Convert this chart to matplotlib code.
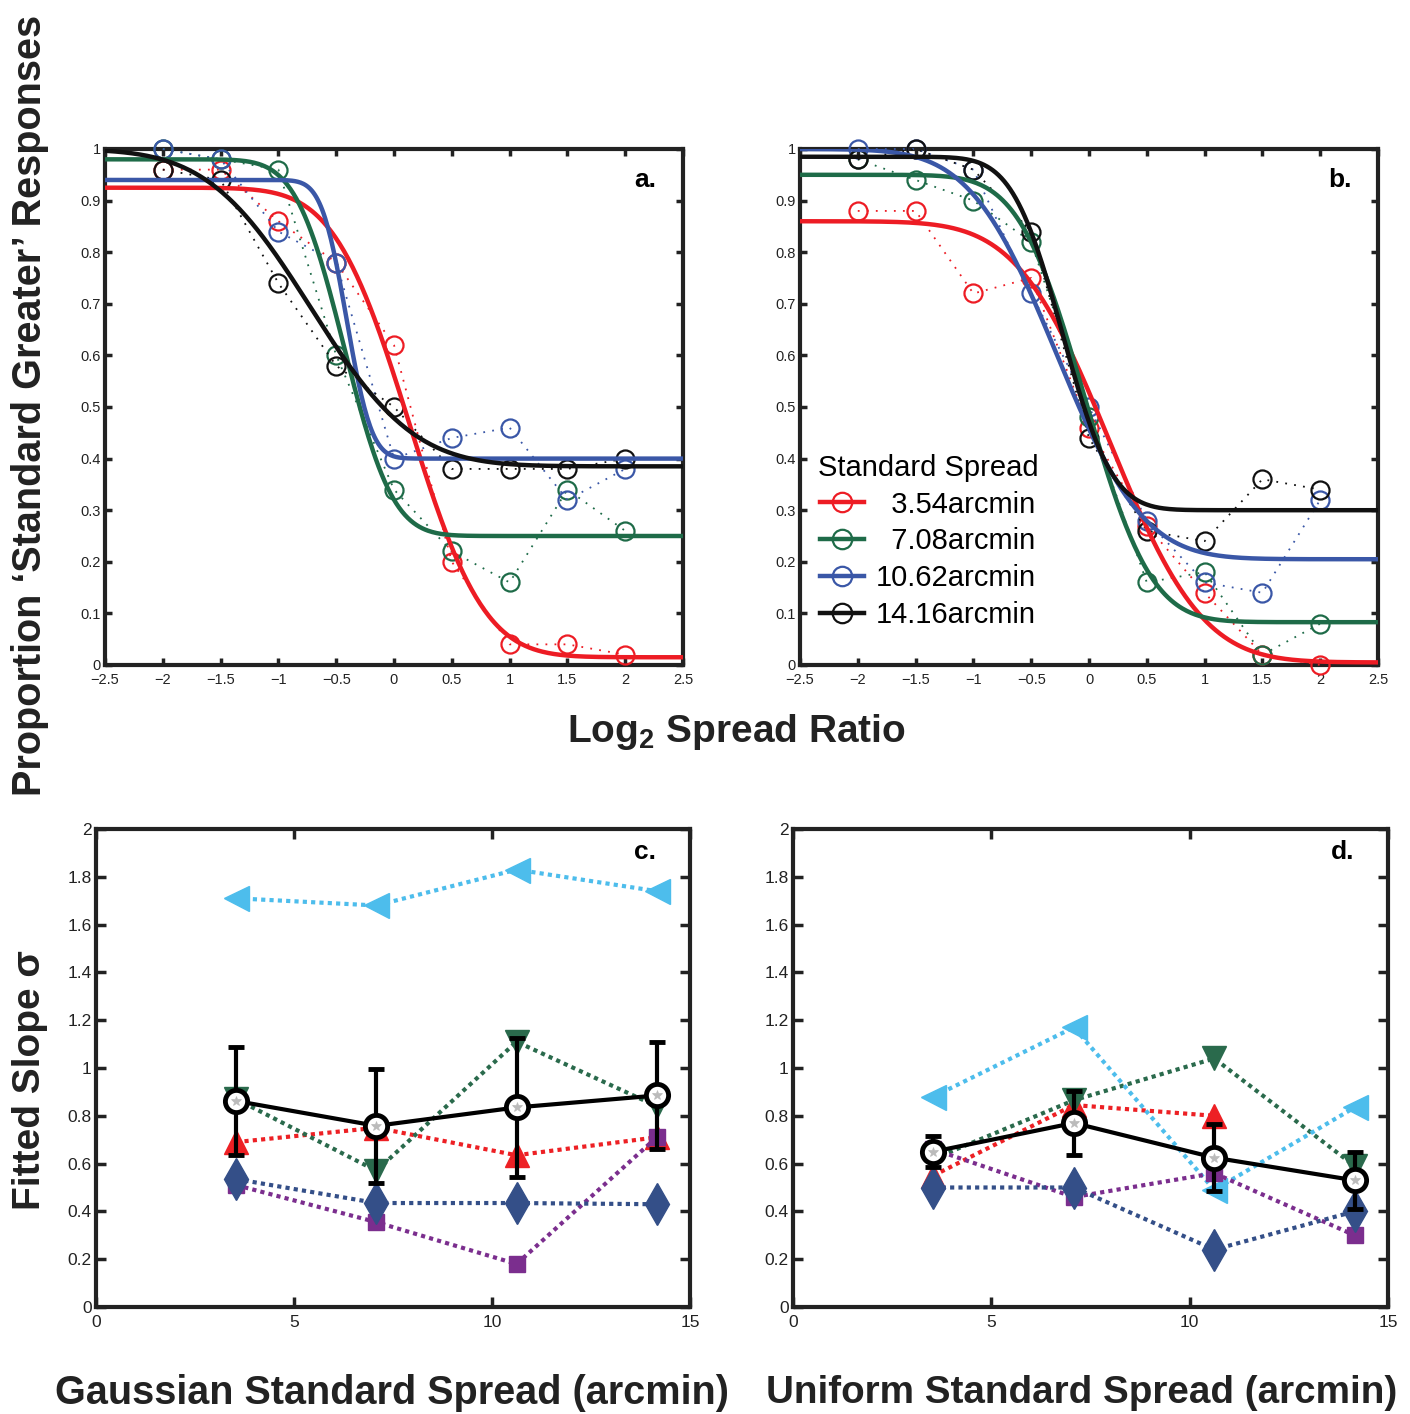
import math
import numpy as np
import matplotlib
matplotlib.use('Agg')
import matplotlib.pyplot as plt
from matplotlib.lines import Line2D
from matplotlib.ticker import MultipleLocator, FuncFormatter

plt.rcParams['font.family'] = ['Liberation Sans', 'DejaVu Sans']
plt.rcParams['mathtext.fontset'] = 'custom'
plt.rcParams['mathtext.rm'] = 'Liberation Sans'
plt.rcParams['mathtext.bf'] = 'Liberation Sans:bold'

# ---------------- data: panels a / b ----------------
log_ratio = [-2, -1.5, -1, -0.5, 0, 0.5, 1, 1.5, 2]
spread_labels = ['  3.54arcmin', '  7.08arcmin', '10.62arcmin', '14.16arcmin']
curve_colors = ['#ED1C24', '#1E6B48', '#3A57A7', '#111111']

gauss_props = [
    [0.96, 0.96, 0.86, 0.78, 0.62, 0.20, 0.04, 0.04, 0.02],
    [1.00, 0.98, 0.96, 0.60, 0.34, 0.22, 0.16, 0.34, 0.26],
    [1.00, 0.98, 0.84, 0.78, 0.40, 0.44, 0.46, 0.32, 0.38],
    [0.96, 0.94, 0.74, 0.58, 0.50, 0.38, 0.38, 0.38, 0.40],
]
uniform_props = [
    [0.88, 0.88, 0.72, 0.75, 0.46, 0.27, 0.14, 0.02, 0.00],
    [0.98, 0.94, 0.90, 0.82, 0.48, 0.16, 0.18, 0.02, 0.08],
    [1.00, 1.00, 0.96, 0.72, 0.50, 0.28, 0.16, 0.14, 0.32],
    [0.98, 1.00, 0.96, 0.84, 0.44, 0.26, 0.24, 0.36, 0.34],
]

# fitted psychometric functions: upper, lower asymptote, mean, sigma
gauss_upper = [0.925, 0.98, 0.94, 1.00]
gauss_lower = [0.015, 0.25, 0.40, 0.385]
gauss_mu = [0.13, -0.43, -0.41, -0.72]
gauss_sigma = [0.51, 0.33, 0.17, 0.70]

uniform_upper = [0.86, 0.95, 1.00, 0.985]
uniform_lower = [0.005, 0.083, 0.205, 0.30]
uniform_mu = [0.18, -0.035, -0.28, -0.23]
uniform_sigma = [0.63, 0.45, 0.59, 0.34]

# ---------------- data: panels c / d ----------------
std_spread = [3.54, 7.08, 10.62, 14.16]
subj_colors = ['#ED2024', '#2A6A4C', '#4DBDEC', '#7B2E8E', '#344F88']
subj_markers = ['^', 'v', '<', 's', 'd']
subj_sizes = [17, 17, 18, 12, 21]

gauss_slopes = [
    [0.69, 0.75, 0.635, 0.71],
    [0.87, 0.57, 1.11, 0.84],
    [1.71, 1.68, 1.83, 1.74],
    [0.51, 0.355, 0.18, 0.71],
    [0.535, 0.435, 0.435, 0.43],
]
gauss_mean = [0.862, 0.758, 0.835, 0.885]
gauss_err = [0.224, 0.238, 0.29, 0.225]

uniform_slopes = [
    [0.55, 0.845, 0.80, np.nan],
    [0.62, 0.865, 1.04, 0.59],
    [0.88, 1.17, 0.49, 0.835],
    [0.66, 0.46, 0.56, 0.30],
    [0.50, 0.50, 0.24, 0.40],
]
uniform_mean = [0.65, 0.77, 0.625, 0.53]
uniform_err = [0.065, 0.135, 0.14, 0.12]


def cum_gauss(x, upper, lower, mu, sigma):
    return np.array([lower + (upper - lower) * 0.5 * math.erfc((v - mu) / (sigma * math.sqrt(2)))
                     for v in x])


def fmt(v, pos):
    return ('%g' % round(v, 4)).replace('-', '\u2212')


def style_axes(ax, labelsize):
    for s in ax.spines.values():
        s.set_linewidth(3.0)
        s.set_color('#222222')
    ax.tick_params(direction='in', length=5, width=2.5, top=True, right=True,
                   labelsize=labelsize, pad=3, colors='#222222', labelcolor='#222222')
    ax.xaxis.set_major_formatter(FuncFormatter(fmt))
    ax.yaxis.set_major_formatter(FuncFormatter(fmt))


fig = plt.figure(figsize=(14.1, 14.14), dpi=100)
W, H = 1410, 1414


def add_ax(l, r, t, b):
    return fig.add_axes([l / W, 1 - b / H, (r - l) / W, (b - t) / H])


ax_a = add_ax(105, 683, 149, 665)
ax_b = add_ax(800, 1378, 149, 665)
ax_c = add_ax(96, 690, 829, 1307)
ax_d = add_ax(793, 1388, 829, 1307)

xs = np.linspace(-2.5, 2.5, 400)
panels_top = [
    (ax_a, gauss_props, gauss_upper, gauss_lower, gauss_mu, gauss_sigma, 'a.'),
    (ax_b, uniform_props, uniform_upper, uniform_lower, uniform_mu, uniform_sigma, 'b.'),
]
for ax, props, up, lo, mu, sg, tag in panels_top:
    for i in range(4):
        ax.plot(log_ratio, props[i], color=curve_colors[i], lw=1.3, ls=(0, (1, 4)),
                marker='o', ms=13, mfc='none', mew=1.6, clip_on=False, zorder=3)
    for i in range(4):
        ax.plot(xs, cum_gauss(xs, up[i], lo[i], mu[i], sg[i]), color=curve_colors[i],
                lw=3.2, zorder=4)
    ax.set_xlim(-2.5, 2.5)
    ax.set_ylim(0, 1)
    ax.xaxis.set_major_locator(MultipleLocator(0.5))
    ax.yaxis.set_major_locator(MultipleLocator(0.1))
    style_axes(ax, 10.5)
    ax.tick_params(axis='x', pad=6)
    ax.text(0.935, 0.94, tag, transform=ax.transAxes, fontsize=19, fontweight='bold',
            ha='center', va='center')

handles = [Line2D([], [], color=c, lw=3.2, marker='o', ms=14, mfc='none', mew=1.6)
           for c in curve_colors]
leg = ax_b.legend(handles, spread_labels, title='Standard Spread', loc='lower left',
                  bbox_to_anchor=(0.0, 0.036), frameon=False, fontsize=21,
                  title_fontsize=21, handlelength=1.5, labelspacing=0.3,
                  handletextpad=0.4, borderaxespad=0.2)

panels_bottom = [
    (ax_c, gauss_slopes, gauss_mean, gauss_err, 'c.'),
    (ax_d, uniform_slopes, uniform_mean, uniform_err, 'd.'),
]
for ax, slopes, mean, err, tag in panels_bottom:
    for i in range(5):
        ax.plot(std_spread, slopes[i], color=subj_colors[i], lw=3, ls=(0, (1, 1)),
                marker=subj_markers[i], ms=subj_sizes[i], mec=subj_colors[i],
                clip_on=False, zorder=3)
    ax.errorbar(std_spread, mean, yerr=err, color='black', lw=3, capsize=6, capthick=3,
                marker='o', ms=16, mfc='white', mec='black', mew=3.5, zorder=5)
    ax.plot(std_spread, mean, ls='none', marker='*', ms=7, color='#bbbbbb', mew=0.5, zorder=6)
    ax.set_xlim(0, 15)
    ax.set_ylim(0, 2)
    ax.xaxis.set_major_locator(MultipleLocator(5))
    ax.yaxis.set_major_locator(MultipleLocator(0.2))
    style_axes(ax, 12.5)
    ax.tick_params(length=7)
    ax.tick_params(axis='x', pad=6)
    ax.text(0.924, 0.952, tag, transform=ax.transAxes, fontsize=19, fontweight='bold',
            ha='center', va='center')

fig.text(30 / W, 1 - 405 / H, 'Proportion \u2018Standard Greater\u2019 Responses', rotation=90,
         fontsize=28.5, fontweight='bold', ha='center', va='center', color='#222222')
fig.text(736 / W, 1 - 732 / H, r'Log$_\mathbf{2}$ Spread Ratio', fontsize=28,
         fontweight='bold', ha='center', va='center', color='#222222')
fig.text(30 / W, 1 - 1080 / H, 'Fitted Slope \u03c3', rotation=90, fontsize=28,
         fontweight='bold', ha='center', va='center', color='#222222')
fig.text(55 / W, 1 - 1393 / H, 'Gaussian Standard Spread (arcmin)', fontsize=28.5,
         fontweight='bold', ha='left', va='center', color='#222222')
fig.text(766 / W, 1 - 1393 / H, 'Uniform Standard Spread (arcmin)', fontsize=27.8,
         fontweight='bold', ha='left', va='center', color='#222222')

fig.savefig('out.png', dpi=100)
